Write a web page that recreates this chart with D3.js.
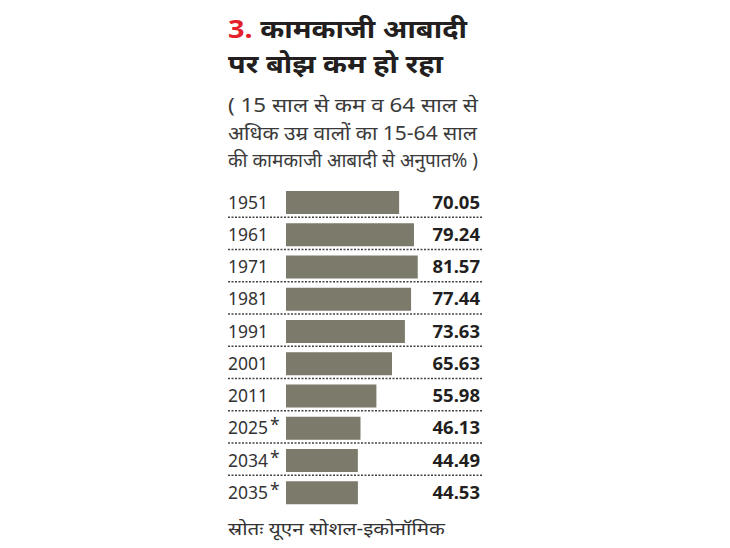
<!DOCTYPE html>
<html><head><meta charset="utf-8">
<script src="https://cdn.jsdelivr.net/npm/d3@7"></script>
<style>body{margin:0;background:#fff}svg{display:block}</style>
</head><body>
<svg id="c" width="730" height="548"></svg>
<script>
const years = ["1951","1961","1971","1981","1991","2001","2011","2025","2034","2035"];
const starred = [false,false,false,false,false,false,false,true,true,true];
const values = [70.05,79.24,81.57,77.44,73.63,65.63,55.98,46.13,44.49,44.53];
const titleNum = "3.";
const titleLines = ["कामकाजी आबादी","पर बोझ कम हो रहा"];
const subtitleLines = ["( 15 साल से कम व 64 साल से","अधिक उम्र वालों का 15-64 साल","की कामकाजी आबादी से अनुपात% )"];
const source = "स्रोतः यूएन सोशल-इकोनॉमिक";

const svg = d3.select("#c");
const font = "'Noto Sans','Noto Sans Devanagari',sans-serif";
const left = 228, right = 480;

// Title
const t1 = svg.append("text").attr("x", left).attr("y", 38).attr("font-family", font)
  .attr("font-size", 25.5).attr("font-weight", "bold").attr("fill", "#231f20")
  .attr("textLength", 239).attr("lengthAdjust", "spacingAndGlyphs");
t1.append("tspan").attr("fill", "#e4202c").text(titleNum + " ");
t1.append("tspan").text(titleLines[0]);
svg.append("text").attr("x", left).attr("y", 73).attr("font-family", font)
  .attr("font-size", 25.5).attr("font-weight", "bold").attr("fill", "#231f20")
  .attr("textLength", 215).attr("lengthAdjust", "spacingAndGlyphs").text(titleLines[1]);

const subLen = [250, 249, 250];
svg.selectAll("text.sub").data(subtitleLines).join("text").attr("class", "sub")
  .attr("x", left).attr("y", (d, i) => 112 + i * 27.5)
  .attr("font-family", font).attr("font-size", 19).attr("fill", "#3a3a3a")
  .attr("textLength", (d, i) => subLen[i]).attr("lengthAdjust", "spacingAndGlyphs")
  .text(d => d);

// Scales
const y = d3.scaleBand().domain(years).range([185, 507.5]).padding(0);
const x = d3.scaleLinear().domain([0, 100]).range([0, 161.5]);
const barX = 286, barOff = 6, barH = 23;

// separators
svg.selectAll("line.sep").data(years.slice(0, -1)).join("line").attr("class", "sep")
  .attr("x1", left).attr("x2", 483)
  .attr("y1", d => y(d) + y.bandwidth()).attr("y2", d => y(d) + y.bandwidth())
  .attr("stroke", "#444").attr("stroke-width", 1.5).attr("stroke-dasharray", "2,1.5");

svg.selectAll("rect.bar").data(years).join("rect").attr("class", "bar")
  .attr("x", barX).attr("y", d => y(d) + barOff)
  .attr("width", (d, i) => x(values[i])).attr("height", barH)
  .attr("fill", "#7c7a6b");

const yl = svg.selectAll("text.yr").data(years).join("text").attr("class", "yr")
  .attr("x", left).attr("y", d => y(d) + barOff + barH / 2 + 6)
  .attr("font-family", font).attr("font-size", 17.5).attr("fill", "#333");
yl.append("tspan").text(d => d);
yl.append("tspan").attr("dx", 2).attr("dy", -3).text((d, i) => starred[i] ? "*" : "");

svg.selectAll("text.val").data(years).join("text").attr("class", "val")
  .attr("x", right).attr("y", d => y(d) + barOff + barH / 2 + 6)
  .attr("text-anchor", "end").attr("font-family", font).attr("font-size", 18.5)
  .attr("font-weight", "bold").attr("fill", "#231f20")
  .text((d, i) => values[i].toFixed(2));

svg.append("text").attr("x", left).attr("y", 535).attr("font-family", font)
  .attr("font-size", 18).attr("fill", "#333")
  .attr("textLength", 217).attr("lengthAdjust", "spacingAndGlyphs").text(source);
</script>
</body></html>
